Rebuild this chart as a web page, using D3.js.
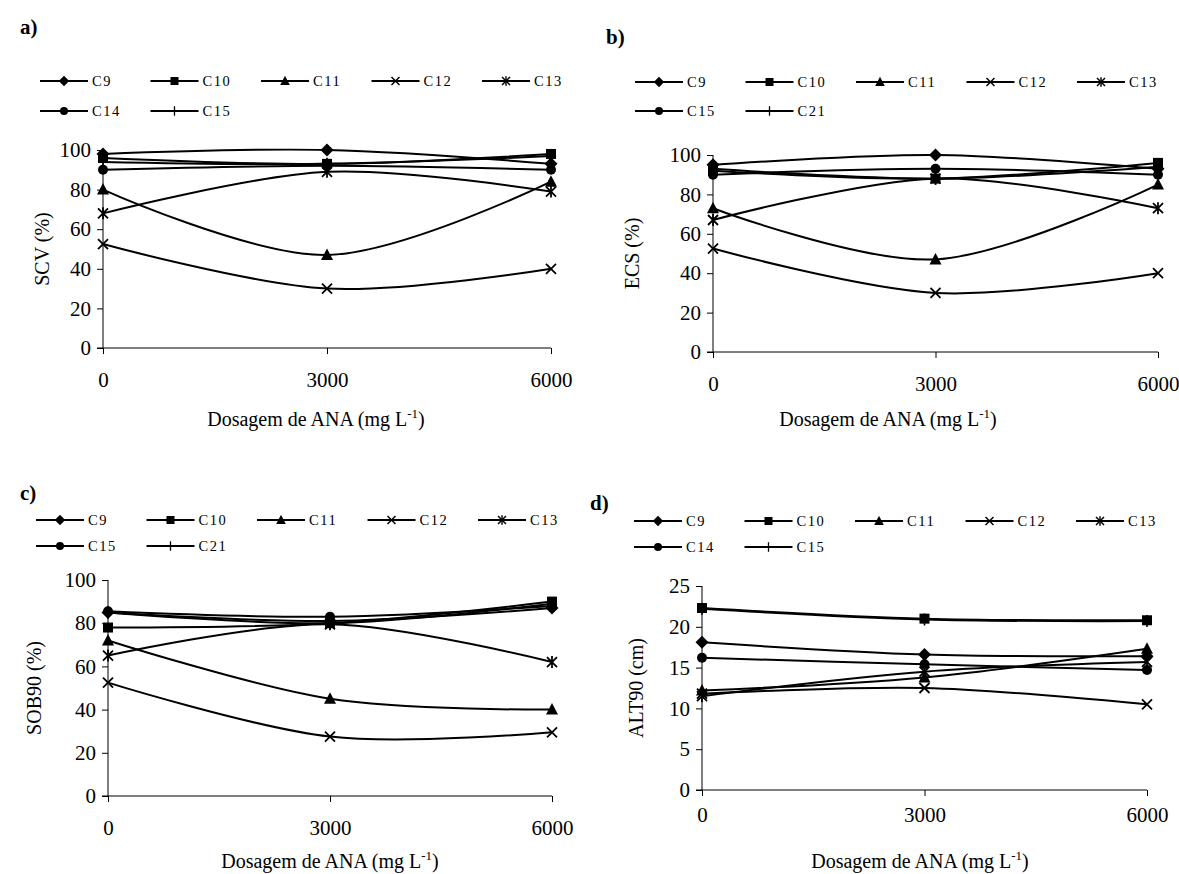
<!DOCTYPE html>
<html>
<head>
<meta charset="utf-8">
<script src="https://cdn.jsdelivr.net/npm/d3@7"></script>
<style>
  html, body { margin: 0; padding: 0; background: #fff; }
  svg { display: block; }
  text { font-family: "Liberation Serif", "Times New Roman", serif; fill: #000; }
</style>
</head>
<body>
<svg id="fig" width="1179" height="874"></svg>
<script>
// Doses of ANA (mg L-1) on the x axis
const doses = [0, 3000, 6000];
const xTicks = [0, 3000, 6000];

// Marker shapes, in legend order
const markers = ["diamond", "square", "triangle", "cross", "asterisk", "circle", "plus"];

// a) SCV (%)
const clonesA = ["C9", "C10", "C11", "C12", "C13", "C14", "C15"];
const scvC9  = [98, 100, 93];
const scvC10 = [96, 93, 98];
const scvC11 = [80, 47, 84];
const scvC12 = [52.5, 30, 40];
const scvC13 = [68, 89, 79];
const scvC14 = [90, 92, 90];
const scvC15 = [94, 93, 97];
const yTicksA = [0, 20, 40, 60, 80, 100];

// b) ECS (%)
const clonesB = ["C9", "C10", "C11", "C12", "C13", "C15", "C21"];
const ecsC9  = [95, 100, 93];
const ecsC10 = [92, 88, 96];
const ecsC11 = [73, 47, 85];
const ecsC12 = [52.5, 30, 40];
const ecsC13 = [67, 88, 73];
const ecsC15 = [90, 93, 90];
const ecsC21 = [93, 88, 94];
const yTicksB = [0, 20, 40, 60, 80, 100];

// c) SOB90 (%)
const clonesC = ["C9", "C10", "C11", "C12", "C13", "C15", "C21"];
const sobC9  = [85, 81, 87];
const sobC10 = [78, 80, 90];
const sobC11 = [72, 45, 40];
const sobC12 = [52.5, 27.5, 29.5];
const sobC13 = [65, 79.5, 62];
const sobC15 = [85.5, 83, 88];
const sobC21 = [85, 80, 89];
const yTicksC = [0, 20, 40, 60, 80, 100];

// d) ALT90 (cm)
const clonesD = ["C9", "C10", "C11", "C12", "C13", "C14", "C15"];
const altC9  = [18.1, 16.6, 16.4];
const altC10 = [22.3, 21.0, 20.8];
const altC11 = [12.2, 13.8, 17.3];
const altC12 = [11.8, 12.5, 10.5];
const altC13 = [11.5, 14.5, 15.7];
const altC14 = [16.2, 15.4, 14.7];
const altC15 = [22.2, 20.9, 20.7];
const yTicksD = [0, 5, 10, 15, 20, 25];

const panels = [
  { tag: "a)", tagX: 20, tagY: 34, yTitle: "SCV (%)", names: clonesA,
    series: [scvC9, scvC10, scvC11, scvC12, scvC13, scvC14, scvC15], yTicks: yTicksA,
    legX: 40, legY: [81, 111], left: 103, right: 551, top: 150, bottom: 348,
    yTitleX: 42, xLabY: 380, xTitleX: 316, xTitleY: 426 },
  { tag: "b)", tagX: 606, tagY: 44, yTitle: "ECS (%)", names: clonesB,
    series: [ecsC9, ecsC10, ecsC11, ecsC12, ecsC13, ecsC15, ecsC21], yTicks: yTicksB,
    legX: 635, legY: [82, 111], left: 713, right: 1158, top: 155, bottom: 352,
    yTitleX: 632, xLabY: 384, xTitleX: 888, xTitleY: 426 },
  { tag: "c)", tagX: 20, tagY: 500, yTitle: "SOB90 (%)", names: clonesC,
    series: [sobC9, sobC10, sobC11, sobC12, sobC13, sobC15, sobC21], yTicks: yTicksC,
    legX: 36, legY: [520, 546], left: 108, right: 552, top: 580, bottom: 796,
    yTitleX: 34, xLabY: 828, xTitleX: 330, xTitleY: 868 },
  { tag: "d)", tagX: 590, tagY: 510, yTitle: "ALT90 (cm)", names: clonesD,
    series: [altC9, altC10, altC11, altC12, altC13, altC14, altC15], yTicks: yTicksD,
    legX: 634, legY: [521, 547], left: 702, right: 1147, top: 586, bottom: 790,
    yTitleX: 636, xLabY: 815, xTitleX: 920, xTitleY: 868 }
];

const svg = d3.select("#fig");

// Draws one marker shape centred at the origin of g; k scales it
function drawMarker(g, type, k) {
  const s = 5 * k;
  const sw = 1.8 * Math.max(k, 0.8);
  if (type === "diamond") {
    g.append("path").attr("d", `M0,${-s * 1.3}L${s * 1.3},0L0,${s * 1.3}L${-s * 1.3},0Z`).attr("fill", "#000");
  } else if (type === "square") {
    g.append("rect").attr("x", -s).attr("y", -s).attr("width", 2 * s).attr("height", 2 * s).attr("fill", "#000");
  } else if (type === "triangle") {
    g.append("path").attr("d", `M0,${-s * 1.3}L${s * 1.2},${s}L${-s * 1.2},${s}Z`).attr("fill", "#000");
  } else if (type === "circle") {
    g.append("circle").attr("r", s).attr("fill", "#000");
  } else if (type === "cross" || type === "asterisk") {
    g.append("path").attr("d", `M${-s},${-s}L${s},${s}M${-s},${s}L${s},${-s}`)
      .attr("stroke", "#000").attr("stroke-width", sw);
    if (type === "asterisk") {
      g.append("path").attr("d", `M0,${-s * 1.2}L0,${s * 1.2}`)
        .attr("stroke", "#000").attr("stroke-width", sw);
    }
  } else if (type === "plus") {
    g.append("path").attr("d", `M0,${-s * 1.2}L0,${s * 1.2}M${-s},0L${s},0`)
      .attr("stroke", "#000").attr("stroke-width", 1.6 * Math.max(k, 0.8));
  }
}

panels.forEach(p => {
  const g = svg.append("g");
  const yMax = d3.max(p.yTicks);
  const x = d3.scaleLinear().domain([0, 6000]).range([p.left, p.right]);
  const y = d3.scaleLinear().domain([0, yMax]).range([p.bottom, p.top]);

  // panel tag
  g.append("text").attr("x", p.tagX).attr("y", p.tagY)
    .attr("font-size", 21).attr("font-weight", "bold").text(p.tag);

  // legend: two rows, five entries in the first
  p.names.forEach((name, i) => {
    const row = i < 5 ? 0 : 1;
    const col = i < 5 ? i : i - 5;
    const lx = p.legX + col * 110.5;
    const ly = p.legY[row];
    const lg = g.append("g").attr("transform", `translate(${lx},${ly})`);
    lg.append("line").attr("x1", 0).attr("x2", 48).attr("y1", 0).attr("y2", 0)
      .attr("stroke", "#000").attr("stroke-width", 2);
    const mg = lg.append("g").attr("transform", "translate(24,0)");
    drawMarker(mg, markers[i], 0.8);
    lg.append("text").attr("x", 52).attr("y", 5).attr("font-size", 14.5)
      .attr("letter-spacing", 1.6).text(name);
  });

  // y axis
  const yAxis = d3.axisLeft(y).tickValues(p.yTicks).tickSize(6).tickPadding(6);
  const ya = g.append("g").attr("transform", `translate(${p.left},0)`).call(yAxis);
  ya.select(".domain").attr("d", `M0,${p.top}V${p.bottom}`).attr("stroke", "#000");
  ya.selectAll(".tick line").attr("stroke", "#000");
  ya.selectAll(".tick text").attr("font-size", 21)
    .attr("font-family", "Liberation Serif, serif").attr("fill", "#000");

  // x axis
  const xAxis = d3.axisBottom(x).tickValues(xTicks).tickSize(6).tickPadding(0).tickFormat(d3.format("d"));
  const xa = g.append("g").attr("transform", `translate(0,${p.bottom})`).call(xAxis);
  xa.select(".domain").attr("d", `M${p.left - 6},0H${p.right}`).attr("stroke", "#000");
  xa.selectAll(".tick line").attr("stroke", "#000");
  xa.selectAll(".tick text").attr("font-size", 21).attr("font-family", "Liberation Serif, serif")
    .attr("fill", "#000").attr("dy", null).attr("y", p.xLabY - p.bottom + 7);

  // axis titles
  const xt = g.append("text").attr("x", p.xTitleX).attr("y", p.xTitleY)
    .attr("text-anchor", "middle").attr("font-size", 20);
  xt.append("tspan").text("Dosagem de ANA (mg L");
  xt.append("tspan").attr("font-size", 13).attr("dy", -8).text("-1");
  xt.append("tspan").attr("dy", 8).text(")");

  const yMid = (p.top + p.bottom) / 2;
  g.append("text").attr("transform", `translate(${p.yTitleX},${yMid}) rotate(-90)`)
    .attr("text-anchor", "middle").attr("dy", 7).attr("font-size", 20).text(p.yTitle);

  // smoothed lines
  const line = d3.line().x((d, i) => x(doses[i])).y(d => y(d)).curve(d3.curveCardinal.tension(0));
  p.series.forEach(vals => {
    g.append("path").attr("d", line(vals)).attr("fill", "none")
      .attr("stroke", "#000").attr("stroke-width", 2);
  });

  // markers
  p.series.forEach((vals, si) => {
    vals.forEach((v, i) => {
      const mg = g.append("g").attr("transform", `translate(${x(doses[i])},${y(v)})`);
      drawMarker(mg, markers[si], 1);
    });
  });
});
</script>
</body>
</html>
